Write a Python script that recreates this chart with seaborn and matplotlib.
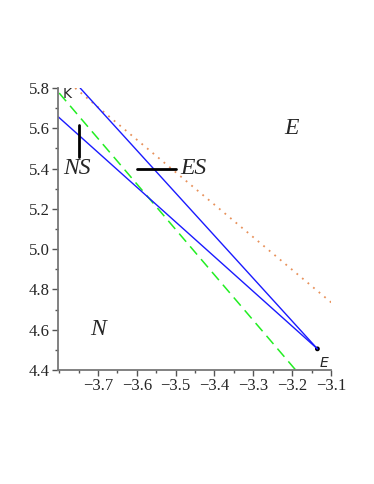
import numpy as np
import matplotlib
matplotlib.use("Agg")
import matplotlib.pyplot as plt
import seaborn as sns
from matplotlib.ticker import MultipleLocator

sns.set_style("ticks")

# line data
blue1_x = [-3.746, -3.135]
blue1_y = [5.80, 4.505]
blue2_x = [-3.803, -3.135]
blue2_y = [5.658, 4.505]
green_x = [-3.800, -3.191]
green_y = [5.775, 4.40]
orange_x = [-3.759, -3.098]
orange_y = [5.80, 4.733]
ns_x = [-3.749, -3.749]
ns_y = [5.616, 5.458]
es_x = [-3.60, -3.50]
es_y = [5.40, 5.40]
pt_x = [-3.135]
pt_y = [4.505]

xticks = [-3.7, -3.6, -3.5, -3.4, -3.3, -3.2, -3.1]
yticks = [4.4, 4.6, 4.8, 5.0, 5.2, 5.4, 5.6, 5.8]

fig = plt.figure(figsize=(3.74, 4.84), dpi=100)
ax = fig.add_axes([58 / 374, 1 - 370 / 484, (331 - 58) / 374, (370 - 88) / 484])

kw = dict(ax=ax, sort=False, estimator=None)
sns.lineplot(x=orange_x, y=orange_y, color="#e8915a", lw=1.3,
             linestyle=(0, (1, 3)), **kw)
sns.lineplot(x=green_x, y=green_y, color="#22ee22", lw=1.1,
             linestyle=(0, (7, 4)), **kw)
sns.lineplot(x=blue1_x, y=blue1_y, color="#1a1aff", lw=1.0, **kw)
sns.lineplot(x=blue2_x, y=blue2_y, color="#1a1aff", lw=1.0, **kw)
sns.lineplot(x=ns_x, y=ns_y, color="black", lw=2.0, **kw)
sns.lineplot(x=es_x, y=es_y, color="black", lw=2.0, **kw)
sns.scatterplot(x=pt_x, y=pt_y, ax=ax, color="black", s=12, edgecolor="none")

serif = ["Liberation Serif", "DejaVu Serif"]
ax.text(-3.754, 5.40, "NS", family=serif, style="italic", fontsize=17,
        ha="center", va="center")
ax.text(-3.487, 5.40, "ES", family=serif, style="italic", fontsize=17,
        ha="left", va="center")
ax.text(-3.201, 5.597, "E", family=serif, style="italic", fontsize=17,
        ha="center", va="center")
ax.text(-3.699, 4.599, "N", family=serif, style="italic", fontsize=17,
        ha="center", va="center")
ax.text(-3.780, 5.768, "K", family="DejaVu Sans", fontsize=10,
        ha="center", va="center")
ax.text(-3.119, 4.435, "E", family="DejaVu Sans", style="italic", fontsize=10,
        ha="center", va="center")

ax.set_xlim(-3.803, -3.1)
ax.set_ylim(4.4, 5.8)
ax.set_xticks(xticks)
ax.set_yticks(yticks)
ax.xaxis.set_minor_locator(MultipleLocator(0.05))
ax.yaxis.set_minor_locator(MultipleLocator(0.1))
ax.set_xticklabels([f"{v:.1f}".replace("-", "\u2212") for v in xticks],
                   family=serif, fontsize=12)
ax.set_yticklabels([f"{v:.1f}" for v in yticks], family=serif, fontsize=12)

for s in ["top", "right"]:
    ax.spines[s].set_visible(False)
for s in ["left", "bottom"]:
    ax.spines[s].set_color("#777777")
    ax.spines[s].set_linewidth(1.3)
ax.tick_params(which="major", length=4, width=1, color="#555555", pad=2)
ax.tick_params(which="minor", length=2, width=1, color="#555555")
ax.set_xlabel("")
ax.set_ylabel("")

fig.savefig("out.png", dpi=100)
